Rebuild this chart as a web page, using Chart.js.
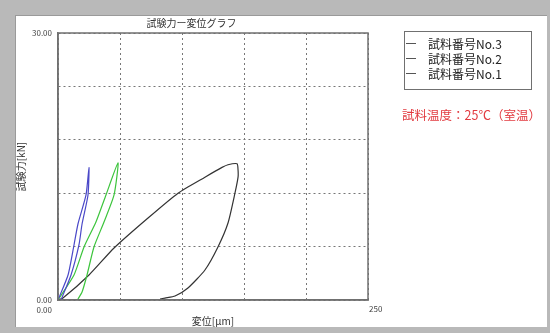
<!DOCTYPE html>
<html>
<head>
<meta charset="utf-8">
<script src="https://cdn.jsdelivr.net/npm/chart.js@4"></script>
<style>
  html, body { margin:0; padding:0; }
  body { width:550px; height:333px; background:#b9b9b9; position:relative; overflow:hidden; font-family:"Noto Sans CJK JP", sans-serif; }
  #panel { position:absolute; left:15px; top:15px; width:532px; height:312px; background:#fff; box-shadow: inset 1px 1px 0 #9a9a9a; }
  #c { position:absolute; left:0; top:0; }
  #legend { position:absolute; left:404px; top:31px; width:128px; height:59px; box-sizing:border-box; border:1.5px solid #707070; padding-top:4px; }
  .item { height:15px; display:flex; align-items:center; font-size:12px; color:#222; white-space:nowrap; }
  .item .ln { display:inline-block; width:10px; height:0; border-top:1.2px solid #555; margin-left:1px; margin-right:12px; }
  #note { position:absolute; left:402px; top:105px; font-size:12.5px; color:#e23a40; white-space:nowrap; }
</style>
</head>
<body>
<div id="panel"><canvas id="c" width="532" height="312"></canvas></div>
<div id="legend"></div>
<div id="note">試料温度：25℃（室温）</div>
<script>
// ---- data ----
const chartTitle = '試験力ー変位グラフ';
const xAxisTitle = '変位[μm]';
const yAxisTitle = '試験力[kN]';
const seriesLabels = ['試料番号No.3', '試料番号No.2', '試料番号No.1'];
const seriesColors = ['#4a48c8', '#3cc43c', '#333333'];
const xTickLabels = ['0.00', '250'];
const yTickLabels = ['0.00', '30.00'];
const xMin = 0, xMax = 250, xStep = 50;
const yMin = 0, yMax = 30, yStep = 6;

const no3X = [0, 8.1, 12.9, 16.1, 22.6, 25.0, 24.2, 19.4, 16.9, 10.5, 2.4];
const no3Y = [0, 2.81, 6.18, 8.54, 11.8, 14.9, 11.8, 8.54, 6.18, 2.81, 0];
const no2X = [0, 12.9, 21.0, 30.6, 38.7, 48.4, 45.2, 37.1, 29.0, 23.4, 19.4, 16.1];
const no2Y = [0, 2.81, 5.96, 8.76, 11.8, 15.4, 11.8, 8.76, 5.96, 2.81, 0.9, 0.11];
const no1X = [0, 4.0, 25.0, 45.2, 72.6, 96.8, 118.5, 132.3, 137.1, 144.4, 145.2, 145.2, 142.7, 137.1, 129.0, 118.5, 104.8, 94.4, 86.3, 82.3];
const no1Y = [0, 0.22, 2.81, 5.84, 9.21, 12.0, 13.8, 14.9, 15.2, 15.3, 14.6, 13.8, 12.0, 8.65, 5.96, 3.37, 1.35, 0.45, 0.22, 0.11];

const seriesX = [no3X, no2X, no1X];
const seriesY = [no3Y, no2Y, no1Y];

const FONT = '"Noto Sans CJK JP", sans-serif';

const datasets = seriesLabels.map((lab, i) => ({
  label: lab,
  data: seriesX[i].map((x, j) => ({ x: x, y: seriesY[i][j] })),
  borderColor: seriesColors[i],
  borderWidth: 1.2,
  showLine: true,
  pointRadius: 0,
  tension: 0.2,
  fill: false
}));

// legend (HTML)
const lg = document.getElementById('legend');
seriesLabels.forEach(lab => {
  const d = document.createElement('div');
  d.className = 'item';
  d.innerHTML = '<span class="ln"></span><span>' + lab + '</span>';
  lg.appendChild(d);
});

const frame = {
  id: 'frame',
  afterDraw(chart) {
    const { ctx, chartArea: a, scales } = chart;
    ctx.save();
    ctx.strokeStyle = '#707070';
    ctx.lineWidth = 1.5;
    ctx.strokeRect(a.left, a.top, a.right - a.left, a.bottom - a.top);
    // x tick labels (first / last)
    ctx.font = '8px ' + FONT;
    ctx.fillStyle = '#444';
    ctx.textBaseline = 'middle';
    const xs = scales.x;
    ctx.textAlign = 'right';
    ctx.fillText(xTickLabels[0], xs.getPixelForValue(xMin) - 6, a.bottom + 10);
    ctx.textAlign = 'left';
    ctx.fillText(xTickLabels[1], xs.getPixelForValue(xMax) + 1, a.bottom + 9);
    ctx.restore();
  }
};

new Chart(document.getElementById('c'), {
  type: 'scatter',
  data: { datasets },
  plugins: [frame],
  options: {
    responsive: false,
    animation: false,
    layout: { padding: { left: 0, right: 179, top: 0, bottom: 0 } },
    plugins: {
      legend: { display: false },
      tooltip: { enabled: false },
      title: {
        display: true, text: chartTitle, color: '#333',
        font: { family: FONT, size: 10, weight: 'normal' },
        padding: { top: 2, bottom: 4 }
      }
    },
    scales: {
      x: {
        type: 'linear', min: xMin, max: xMax,
        afterFit(s) { s.height = 27; },
        ticks: { stepSize: xStep, display: false },
        grid: { color: '#777', lineWidth: 1, drawTicks: false },
        border: { color: '#707070', width: 1.5, dash: [2, 3] },
        title: { display: true, text: xAxisTitle, color: '#333', font: { family: FONT, size: 10 }, padding: { top: 0, bottom: 0 } }
      },
      y: {
        type: 'linear', min: yMin, max: yMax,
        afterFit(s) { s.width = 43; },
        ticks: {
          stepSize: yStep, padding: 6, color: '#444',
          font: { family: FONT, size: 8 },
          callback: (v) => v === yMin ? yTickLabels[0] : (v === yMax ? yTickLabels[1] : '')
        },
        grid: { color: '#777', lineWidth: 1, drawTicks: false },
        border: { color: '#707070', width: 1.5, dash: [2, 3] },
        title: { display: true, text: yAxisTitle, color: '#333', font: { family: FONT, size: 10 }, padding: { top: 0, bottom: 0 } }
      }
    }
  }
});
</script>
</body>
</html>
